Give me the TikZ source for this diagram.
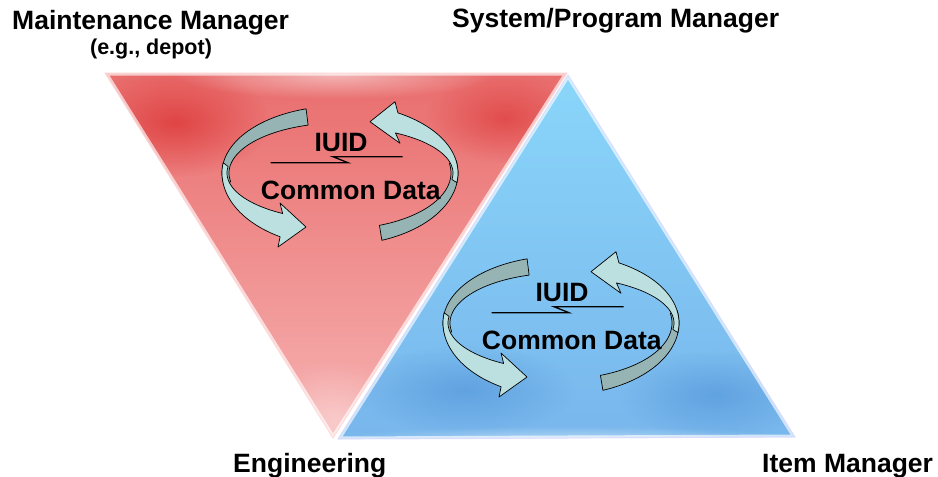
\documentclass[tikz,border=0pt]{standalone}
\usepackage{fontspec}
\setmainfont{Liberation Sans}
\usetikzlibrary{fadings}

\tikzfading[name=softblob, inner color=transparent!0, outer color=transparent!100]

\definecolor{redtop}{RGB}{233,108,108}
\definecolor{redmid}{RGB}{240,136,136}
\definecolor{redbot}{RGB}{247,178,178}
\definecolor{reddeep}{RGB}{222,60,60}
\definecolor{bluetop}{RGB}{138,214,250}
\definecolor{bluemid}{RGB}{98,176,242}
\definecolor{bluebot}{RGB}{120,182,236}
\definecolor{bluedeep}{RGB}{76,142,214}
\definecolor{ribbonfront}{RGB}{188,224,224}
\definecolor{ribbonback}{RGB}{150,180,180}

\tikzset{
  backface/.style={fill=ribbonback, draw=black, line width=0.7pt, line join=round},
  frontface/.style={fill=ribbonfront, draw=black, line width=0.7pt, line join=round},
  bigtext/.style={font=\fontsize{26.5}{30}\selectfont\bfseries, inner sep=0pt},
  smalltext/.style={font=\fontsize{21.5}{25}\selectfont\bfseries, inner sep=0pt},
  edgeglow/.style={draw=white, line width=5pt, opacity=0.65, line join=round},
  pics/datacycle/.style={code={
    % left ribbon: back face over the top, front face with head at the bottom
    \filldraw[backface]
      plot[domain=106.7:190, samples=40] ({118*cos(\x)},{-67*sin(\x)})
      -- plot[domain=190:106.7, samples=40] ({111*cos(\x)},{-50*sin(\x)}) -- cycle;
    \filldraw[frontface]
      plot[domain=172:239.5, samples=40] ({118*cos(\x)},{-74*sin(\x)})
      -- (-62,74) -- (-34,54) -- (-60,30)
      -- plot[domain=239.5:172, samples=40] ({113*cos(\x)},{-47*sin(\x)}) -- cycle;
    % right ribbon: back face under the bottom, front face with head at the top
    \filldraw[backface]
      plot[domain=-69.2:10, samples=40] ({118*cos(\x)},{-72*sin(\x)})
      -- plot[domain=10:-69.2, samples=40] ({111*cos(\x)},{-56*sin(\x)}) -- cycle;
    \filldraw[frontface]
      plot[domain=-8:60.6, samples=40] ({118*cos(\x)},{-69*sin(\x)})
      -- (55,-71.3) -- (30,-51.3) -- (60,-29.7)
      -- plot[domain=60.6:-8, samples=40] ({113*cos(\x)},{-46*sin(\x)}) -- cycle;
    % labels
    \node[bigtext, anchor=base] (-iuid) at (1,-21.3) {IUID};
    \node[bigtext, anchor=base] (-data) at (10.8,26.3) {Common Data};
    \coordinate (-a) at (-69.3,-10.3);
    \coordinate (-b) at (62.7,-16.3);
    \draw[line width=1.3pt, line join=miter] (-a) -- (8,-10.3) -- (-7,-16.3) -- (-b);
  }}
}

\begin{document}
\begin{tikzpicture}[x=1pt, y=-1pt]
\useasboundingbox (0,0) rectangle (938,477);

% red triangle (pointing down)
\coordinate (r1) at (105,73);
\coordinate (r2) at (567,73);
\coordinate (r3) at (333,438);
\begin{scope}
  \clip (r1) -- (r2) -- (r3) -- cycle;
  \shade[top color=redtop, middle color=redmid, bottom color=redbot] (100,70) rectangle (570,440);
  \fill[reddeep, path fading=softblob, fill opacity=0.85] (175,122) ellipse [x radius=95, y radius=55];
  \fill[reddeep, path fading=softblob, fill opacity=0.7] (505,118) ellipse [x radius=80, y radius=45];
  \fill[white, path fading=softblob, fill opacity=0.5] (335,74) ellipse [x radius=160, y radius=25];
  \fill[white, path fading=softblob, fill opacity=0.35] (333,420) ellipse [x radius=70, y radius=60];
  \draw[edgeglow] (r1) -- (r2) -- (r3) -- cycle;
\end{scope}
\draw[white!85!red, line width=1.2pt, line join=round, opacity=0.7] (r1) -- (r2) -- (r3) -- cycle;

% blue triangle (pointing up)
\coordinate (b1) at (568,75);
\coordinate (b2) at (338,439);
\coordinate (b3) at (795,437);
\begin{scope}
  \clip (b1) -- (b2) -- (b3) -- cycle;
  \shade[top color=bluetop, middle color=bluemid, bottom color=bluebot] (330,70) rectangle (800,440);
  \fill[bluedeep, path fading=softblob, fill opacity=0.55] (465,390) ellipse [x radius=110, y radius=45];
  \fill[bluedeep, path fading=softblob, fill opacity=0.55] (715,395) ellipse [x radius=95, y radius=45];
  \fill[white, path fading=softblob, fill opacity=0.45] (566,440) ellipse [x radius=240, y radius=14];
  \draw[edgeglow] (b1) -- (b2) -- (b3) -- cycle;
\end{scope}
\draw[white!85!blue, line width=1.2pt, line join=round, opacity=0.7] (b1) -- (b2) -- (b3) -- cycle;

% circulating IUID / common data loops
\pic (redloop) at (340,173) {datacycle};
\pic (blueloop) at (561,323) {datacycle};

% role labels
\node[bigtext, anchor=base west] (maint) at (12,29.5) {Maintenance Manager};
\node[smalltext, anchor=base] (depot) at (151,54) {(e.g., depot)};
\node[bigtext, anchor=base west] (sysprog) at (452,27) {System/Program Manager};
\node[bigtext, anchor=base west] (eng) at (233,472) {Engineering};
\node[bigtext, anchor=base west] (item) at (762,472) {Item Manager};
\end{tikzpicture}
\end{document}
